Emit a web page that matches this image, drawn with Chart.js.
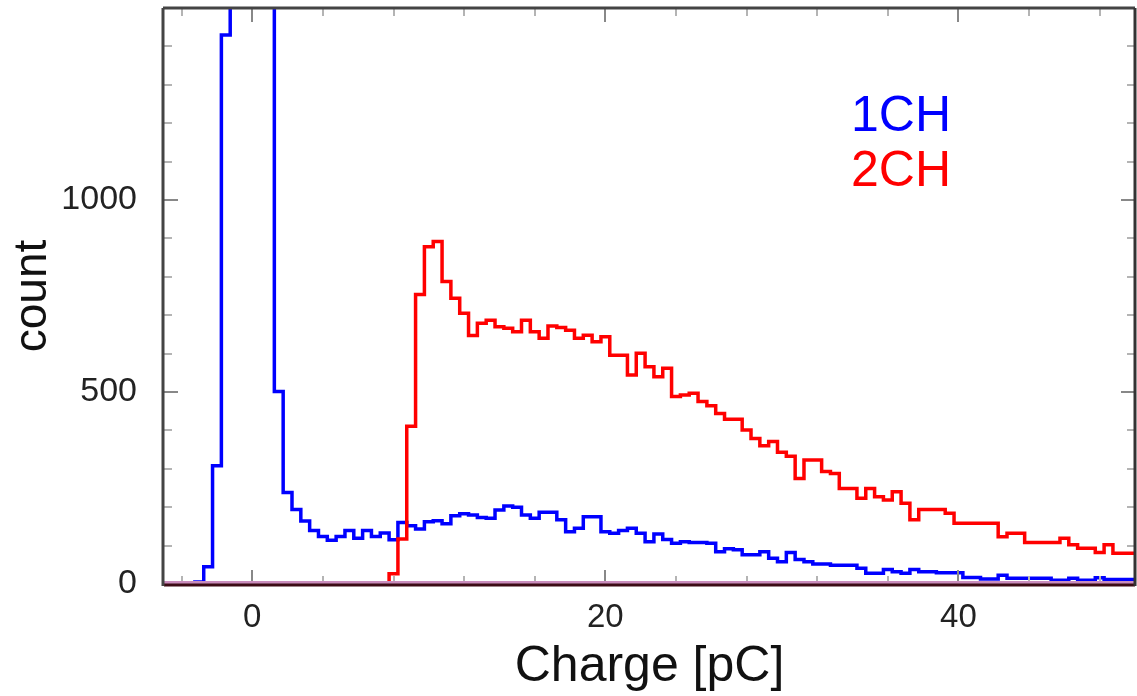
<!DOCTYPE html>
<html>
<head>
<meta charset="utf-8">
<title>Charge spectrum</title>
<script src="https://cdn.jsdelivr.net/npm/chart.js@4.4.1/dist/chart.umd.min.js"></script>
<style>
  html, body { margin: 0; padding: 0; background: #fff; }
  canvas { display: block; }
</style>
</head>
<body>
<canvas id="charge-chart" width="1137" height="696"></canvas>
<script>
// histogram bins: 0.5 pC wide, first bin centred on -5 pC
var binStart = -5;
var binWidth = 0.5;

// 1CH counts per bin (the pedestal around 0 pC runs off the top of the frame)
var counts1CH = [
  0, 0, 3, 3, 5, 45, 308, 1430, 2100, 3300,
  3600, 3000, 1900, 501, 238, 194, 164, 139, 124, 114,
  124, 139, 119, 139, 124, 133, 115, 160, 152, 143,
  162, 165, 157, 178, 183, 180, 173, 171, 193, 203,
  200, 180, 171, 187, 187, 167, 136, 145, 175, 175,
  136, 132, 139, 145, 132, 110, 130, 116, 106, 110,
  108, 108, 106, 84, 92, 89, 76, 76, 84, 67,
  58, 82, 64, 58, 52, 52, 49, 49, 49, 41,
  28, 28, 38, 32, 28, 38, 32, 32, 29, 29,
  29, 17, 17, 13, 13, 23, 15, 15, 15, 15,
  15, 10, 10, 15, 10, 10, 16, 12, 12, 12,
  12
];

// 2CH counts per bin
var counts2CH = [
  0, 0, 0, 0, 0, 0, 0, 0, 0, 0,
  0, 0, 0, 0, 0, 0, 0, 0, 0, 0,
  0, 0, 0, 0, 0, 0, 27, 117, 411, 754,
  878, 892, 788, 744, 705, 647, 679, 687, 670, 666,
  657, 687, 657, 640, 672, 668, 661, 640, 648, 631,
  644, 596, 596, 544, 601, 566, 540, 562, 488, 492,
  497, 475, 464, 444, 429, 429, 401, 379, 360, 371,
  343, 333, 275, 323, 323, 293, 288, 249, 249, 223,
  249, 227, 219, 240, 210, 167, 194, 194, 194, 184,
  158, 158, 158, 158, 158, 123, 132, 132, 108, 108,
  108, 108, 119, 102, 93, 93, 82, 102, 80, 80,
  80
];

var xTickLabels = [0, 20, 40];
var yTickLabels = [0, 500, 1000];
var xMinorStep = 4;
var yMinorStep = 100;

function toPoints(counts) {
  return counts.map(function(v, i) {
    return { x: binStart + i * binWidth, y: v };
  });
}

// ROOT-style frame: box on all four sides, tick marks pointing inwards
var frameTicks = {
  id: 'frameTicks',
  afterDatasetsDraw: function(chart) {
    var c = chart.ctx, a = chart.chartArea;
    var xs = chart.scales.x, ys = chart.scales.y;
    function seg(x1, y1, x2, y2) {
      c.beginPath(); c.moveTo(x1, y1); c.lineTo(x2, y2); c.stroke();
    }
    c.save();
    c.lineWidth = 2;
    var v, px, major, len;
    for (v = Math.ceil(xs.min / xMinorStep) * xMinorStep; v <= xs.max; v += xMinorStep) {
      px = Math.round(xs.getPixelForValue(v));
      major = xTickLabels.indexOf(v) >= 0;
      len = major ? 14 : 8;
      c.strokeStyle = major ? '#888' : '#b4b4b4';
      seg(px, a.bottom, px, a.bottom - len);
      seg(px, a.top, px, a.top + len);
    }
    for (v = 0; v <= ys.max; v += yMinorStep) {
      px = Math.round(ys.getPixelForValue(v));
      major = yTickLabels.indexOf(v) >= 0;
      len = major ? 14 : 8;
      c.strokeStyle = major ? '#888' : '#b4b4b4';
      seg(a.left, px, a.left + len, px);
      seg(a.right, px, a.right - len, px);
    }
    // zero line band + axes box
    c.lineWidth = 3;
    c.strokeStyle = '#c98cbc';
    seg(a.left, a.bottom - 1.5, a.right, a.bottom - 1.5);
    c.strokeStyle = '#3c0a14';
    seg(a.left, a.bottom + 1, a.right, a.bottom + 1);
    c.strokeStyle = '#444';
    seg(a.left - 1, a.top, a.left - 1, a.bottom + 2);
    seg(a.left - 1, a.top, a.right, a.top);
    c.strokeStyle = '#333';
    seg(a.right, a.top, a.right, a.bottom + 2);
    c.restore();
  }
};

// coloured text legend inside the frame
var textLegend = {
  id: 'textLegend',
  afterDraw: function(chart) {
    var c = chart.ctx;
    c.save();
    c.font = '50px "Liberation Sans", Arial, sans-serif';
    c.textAlign = 'left';
    c.textBaseline = 'alphabetic';
    chart.data.datasets.forEach(function(ds, i) {
      c.fillStyle = ds.borderColor;
      c.fillText(ds.label, 851, 131 + i * 55);
    });
    c.restore();
  }
};

(function() {
  Chart.defaults.font.family = '"Liberation Sans", Arial, sans-serif';
  var ctx = document.getElementById('charge-chart');
  new Chart(ctx, {
    type: 'line',
    data: {
      datasets: [
        {
          label: '1CH',
          data: toPoints(counts1CH),
          borderColor: '#0000ff',
          borderWidth: 3.5,
          stepped: 'middle',
          pointRadius: 0,
          fill: false,
          order: 1
        },
        {
          label: '2CH',
          data: toPoints(counts2CH),
          borderColor: '#ff0000',
          borderWidth: 3.5,
          stepped: 'middle',
          pointRadius: 0,
          fill: false,
          order: 0
        }
      ]
    },
    options: {
      responsive: false,
      animation: false,
      devicePixelRatio: 1,
      layout: { padding: { top: 8, right: 2, left: 0, bottom: 0 } },
      plugins: {
        legend: { display: false },
        tooltip: { enabled: false }
      },
      scales: {
        x: {
          type: 'linear',
          min: -5,
          max: 50,
          afterBuildTicks: function(scale) {
            scale.ticks = xTickLabels.map(function(v) { return { value: v }; });
          },
          afterFit: function(scale) {
            scale.height = 112;
            scale.paddingLeft = 0;
            scale.paddingRight = 0;
          },
          grid: { display: false, drawTicks: false },
          border: { display: false },
          ticks: {
            padding: 14,
            color: '#222',
            font: { size: 33 },
            maxRotation: 0,
            callback: function(v) { return String(v); }
          },
          title: {
            display: true,
            text: 'Charge [pC]',
            color: '#111',
            font: { size: 50, lineHeight: 1 },
            padding: { top: 0, bottom: 4 }
          }
        },
        y: {
          min: 0,
          max: 1500,
          afterBuildTicks: function(scale) {
            scale.ticks = yTickLabels.map(function(v) { return { value: v }; });
          },
          afterFit: function(scale) {
            scale.width = 164;
            scale.paddingTop = 0;
            scale.paddingBottom = 0;
          },
          grid: { display: false, drawTicks: false },
          border: { display: false },
          ticks: {
            padding: 27,
            color: '#222',
            font: { size: 34 },
            callback: function(v) { return String(v); }
          },
          title: {
            display: true,
            text: 'count',
            color: '#111',
            font: { size: 46, lineHeight: 1 },
            padding: { top: 10, bottom: 0 }
          }
        }
      }
    },
    plugins: [frameTicks, textLegend]
  });
})();
</script>
</body>
</html>
